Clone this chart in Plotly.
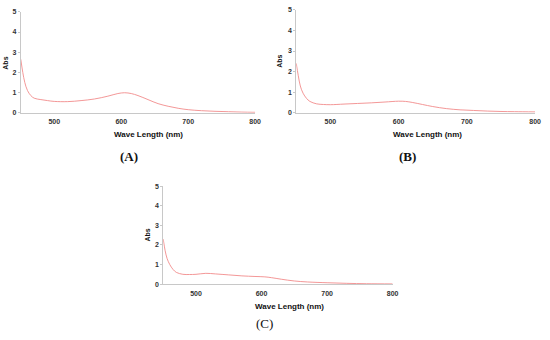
import plotly.graph_objects as go

wl_a = [450, 453, 456, 460, 465, 470, 480, 490, 500, 520, 540, 560, 580, 595, 605, 615, 625, 640, 655, 670, 685, 700, 720, 740, 760, 780, 800]
abs_a = [2.65, 2.0, 1.5, 1.1, 0.85, 0.72, 0.65, 0.6, 0.56, 0.55, 0.6, 0.68, 0.82, 0.95, 0.99, 0.95, 0.85, 0.65, 0.45, 0.32, 0.22, 0.15, 0.1, 0.07, 0.05, 0.03, 0.02]

wl_b = [450, 453, 456, 460, 465, 470, 480, 490, 500, 520, 540, 560, 580, 600, 610, 620, 635, 650, 670, 690, 710, 730, 750, 770, 800]
abs_b = [2.4, 1.8, 1.3, 0.95, 0.7, 0.55, 0.43, 0.4, 0.39, 0.42, 0.45, 0.48, 0.52, 0.56, 0.55, 0.5, 0.4, 0.3, 0.2, 0.14, 0.11, 0.08, 0.06, 0.05, 0.04]

wl_c = [450, 453, 456, 460, 465, 470, 480, 490, 500, 515, 530, 550, 570, 590, 605, 615, 630, 650, 670, 700, 730, 760, 800]
abs_c = [2.3, 1.7, 1.3, 1.0, 0.75, 0.6, 0.5, 0.49, 0.5, 0.55, 0.52, 0.47, 0.42, 0.39, 0.37, 0.33, 0.25, 0.16, 0.11, 0.07, 0.04, 0.02, 0.01]

x_ticks = [500, 600, 700, 800]
y_ticks = [0, 1, 2, 3, 4, 5]
panel_labels = ["(A)", "(B)", "(C)"]

line_color = "#f28b8b"
axis_color = "#c8c8c8"
font_fam = "Liberation Sans, Arial, sans-serif"

fig = go.Figure()
series = [(wl_a, abs_a), (wl_b, abs_b), (wl_c, abs_c)]
for i, (x, y) in enumerate(series):
    sfx = "" if i == 0 else str(i + 1)
    fig.add_trace(go.Scatter(x=x, y=y, mode="lines", line=dict(color=line_color, width=0.9, shape="spline"),
                             xaxis="x" + sfx, yaxis="y" + sfx, showlegend=False))

domains = [
    ([21 / 550, 258 / 550], [1 - 111 / 340, 1 - 8 / 340]),
    ([299.5 / 550, 541 / 550], [1 - 111 / 340, 1 - 6 / 340]),
    ([165 / 550, 397 / 550], [1 - 286 / 340, 1 - 186 / 340]),
]

layout = dict(width=550, height=340, margin=dict(l=0, r=0, t=0, b=0),
              plot_bgcolor="white", paper_bgcolor="white")
for i, (xd, yd) in enumerate(domains):
    sfx = "" if i == 0 else str(i + 1)
    ax_x = dict(domain=xd, range=[450, 800], tickvals=x_ticks, showgrid=False, zeroline=False,
                showline=True, linecolor=axis_color, linewidth=1, ticks="outside", ticklen=2,
                tickcolor="white", ticklabeloverflow="allow",
                tickfont=dict(family=font_fam, size=7, color="#333", weight="bold"),
                anchor="y" + sfx)
    ax_y = dict(domain=yd, range=[0, 5], tickvals=y_ticks, showgrid=False, zeroline=False,
                showline=True, linecolor=axis_color, linewidth=1, ticks="outside", ticklen=2,
                tickcolor=axis_color, ticklabeloverflow="allow",
                tickfont=dict(family=font_fam, size=7, color="#333", weight="bold"),
                anchor="x" + sfx)
    layout["xaxis" + sfx] = ax_x
    layout["yaxis" + sfx] = ax_y
fig.update_layout(**layout)

title_pos = [(150, 133), (432, 133), (293, 309)]
abs_pos = [(6, 60), (283, 58), (149, 236)]
label_pos = [(130, 156), (412, 156), (267, 326)]
for i in range(3):
    tx, ty = title_pos[i]
    fig.add_annotation(x=tx / 550, y=1 - ty / 340, xref="paper", yref="paper", text="<b>Wave Length (nm)</b>",
                       xanchor="center", yanchor="middle",
                       showarrow=False, font=dict(family=font_fam, size=8, color="#111"))
    ax_, ay_ = abs_pos[i]
    fig.add_annotation(x=ax_ / 550, y=1 - ay_ / 340, xref="paper", yref="paper", text="<b>Abs</b>",
                       xanchor="center", yanchor="middle",
                       showarrow=False, textangle=-90, font=dict(family=font_fam, size=7, color="#111"))
    lx, ly = label_pos[i]
    weight = "<b>" + panel_labels[i] + "</b>" if i < 2 else panel_labels[i]
    fig.add_annotation(x=lx / 550, y=1 - ly / 340, xref="paper", yref="paper", text=weight,
                       xanchor="center", yanchor="middle",
                       showarrow=False, font=dict(family="Liberation Serif, Times New Roman, serif", size=13, color="#111"))

fig.write_html("out.html", config={"displayModeBar": False},
               post_script="document.body.style.margin='0';document.body.style.overflow='hidden';")
